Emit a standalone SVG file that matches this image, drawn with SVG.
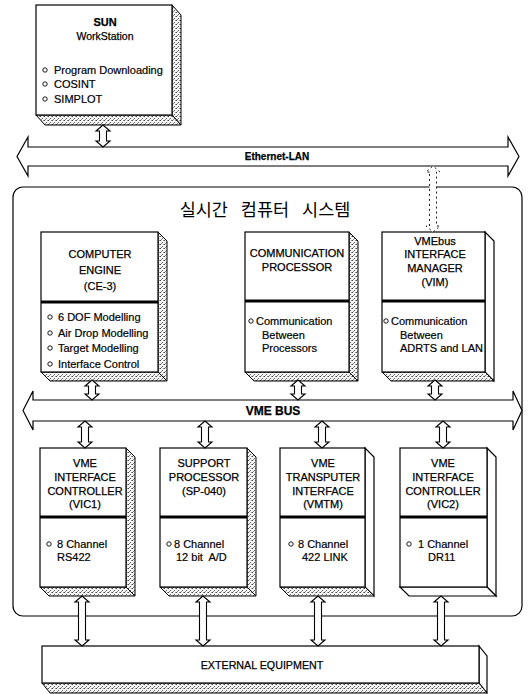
<svg xmlns="http://www.w3.org/2000/svg" width="530" height="694" viewBox="0 0 530 694">
<defs>
<pattern id="stip" width="4" height="4" patternUnits="userSpaceOnUse">
<rect width="4" height="4" fill="#f4f4f4"/>
<rect x="0" y="0" width="1" height="1" fill="#444"/>
<rect x="2" y="2" width="1" height="1" fill="#666"/>
<rect x="3" y="0" width="1" height="1" fill="#999"/>
<rect x="1" y="3" width="1" height="1" fill="#888"/>
</pattern>
<style>
.box{fill:#fff;stroke:#000;stroke-width:1.2}
.side{fill:url(#stip);stroke:#000;stroke-width:1}
.div{stroke:#000;stroke-width:3}
.bus{fill:#fff;stroke:#000;stroke-width:1.2}
.arr{fill:#fff;stroke:#000;stroke-width:1.1}
.dash{stroke-dasharray:2 3;stroke-width:0.9}
.cont{fill:none;stroke:#000;stroke-width:1.2}
.t{font-family:"Liberation Sans",Arial,sans-serif;font-size:11px;fill:#000;stroke:#000;stroke-width:0.25;text-anchor:middle}
.l{font-family:"Liberation Sans",Arial,sans-serif;font-size:11px;fill:#000;stroke:#000;stroke-width:0.2;text-anchor:start}
.bl{fill:#fff;stroke:#000;stroke-width:0.9}
.kr{font-family:"Noto Sans CJK KR","Noto Sans CJK SC",sans-serif;font-size:17.5px;fill:#000;text-anchor:middle;word-spacing:9px}
</style>
</defs>

<rect class="cont" x="13" y="187" width="509" height="429" rx="10"/>
<text class="kr" x="265" y="216">실시간 컴퓨터 시스템</text>

<g id="ethernet-lan">
<path class="bus" d="M28,147 L508,147 L508,137 L519,156.5 L508,176 L508,166 L28,166 L28,176 L17,156.5 L28,137 Z"/>
<text class="t" x="277" y="160" style="font-weight:bold;font-size:10px">Ethernet-LAN</text>
</g>

<g id="vme-bus">
<path class="bus" d="M33,400 L513,400 L513,391 L522,410.5 L513,430 L513,421 L33,421 L33,430 L23,410.5 L33,391 Z"/>
<text class="t" x="273" y="415" style="font-weight:bold;font-size:12px">VME BUS</text>
</g>

<g id="sun">
<path class="side" d="M172,5 L181,15 L181,125 L172,115 Z"/>
<path class="side" d="M36,115 L45,125 L181,125 L172,115 Z"/>
<rect class="box" x="36" y="5" width="136" height="110"/>
<text class="t" x="105" y="26" style="font-weight:bold">SUN</text>
<text class="t" x="105" y="40" style="font-size:10.5px">WorkStation</text>
<circle class="bl" cx="45" cy="70" r="2.2"/>
<text class="l" x="54" y="74">Program Downloading</text>
<circle class="bl" cx="45" cy="84" r="2.2"/>
<text class="l" x="54" y="88">COSINT</text>
<circle class="bl" cx="45" cy="99" r="2.2"/>
<text class="l" x="54" y="103">SIMPLOT</text>
</g>

<g id="computer-engine">
<path class="side" d="M158,232 L167,241 L167,381 L158,372 Z"/>
<path class="side" d="M41,372 L50,381 L167,381 L158,372 Z"/>
<rect class="box" x="41" y="232" width="117" height="140"/>
<line class="div" x1="41" y1="302" x2="158" y2="302"/>
<text class="t" x="100" y="258">COMPUTER</text>
<text class="t" x="100" y="274">ENGINE</text>
<text class="t" x="100" y="290">(CE-3)</text>
<circle class="bl" cx="50" cy="317" r="2.2"/>
<text class="l" x="58" y="321">6 DOF Modelling</text>
<circle class="bl" cx="50" cy="333" r="2.2"/>
<text class="l" x="58" y="337">Air Drop Modelling</text>
<circle class="bl" cx="50" cy="348" r="2.2"/>
<text class="l" x="58" y="352">Target Modelling</text>
<circle class="bl" cx="50" cy="364" r="2.2"/>
<text class="l" x="58" y="368">Interface Control</text>
</g>

<g id="communication-processor">
<path class="side" d="M349,232 L358,241 L358,381 L349,372 Z"/>
<path class="side" d="M245,372 L254,381 L358,381 L349,372 Z"/>
<rect class="box" x="245" y="232" width="104" height="140"/>
<line class="div" x1="245" y1="301" x2="349" y2="301"/>
<text class="t" x="297" y="257">COMMUNICATION</text>
<text class="t" x="297" y="271">PROCESSOR</text>
<circle class="bl" cx="251" cy="321" r="2.2"/>
<text class="l" x="256" y="325">Communication</text>
<text class="l" x="262" y="339">Between</text>
<text class="l" x="262" y="352">Processors</text>
</g>

<g id="vim">
<path class="box" d="M485,232 L494,241 L494,381 L485,372 Z"/>
<path class="side" d="M382,372 L391,381 L494,381 L485,372 Z"/>
<rect class="box" x="382" y="232" width="103" height="140"/>
<line class="div" x1="382" y1="301" x2="485" y2="301"/>
<text class="t" x="435" y="245">VMEbus</text>
<text class="t" x="435" y="258">INTERFACE</text>
<text class="t" x="435" y="272">MANAGER</text>
<text class="t" x="435" y="286">(VIM)</text>
<circle class="bl" cx="386" cy="321" r="2.2"/>
<text class="l" x="391" y="325">Communication</text>
<text class="l" x="400" y="339">Between</text>
<text class="l" x="400" y="352">ADRTS and LAN</text>
</g>

<g id="vic1">
<path class="side" d="M126,448 L135,457 L135,596 L126,587 Z"/>
<path class="side" d="M40,587 L49,596 L135,596 L126,587 Z"/>
<rect class="box" x="40" y="448" width="86" height="139"/>
<line class="div" x1="40" y1="517" x2="126" y2="517"/>
<text class="t" x="85" y="467">VME</text>
<text class="t" x="85" y="481">INTERFACE</text>
<text class="t" x="85" y="495">CONTROLLER</text>
<text class="t" x="85" y="508">(VIC1)</text>
<circle class="bl" cx="49" cy="544" r="2.2"/>
<text class="l" x="57" y="548">8 Channel</text>
<text class="l" x="57" y="561">RS422</text>
</g>

<g id="sp-040">
<path class="side" d="M247,448 L256,457 L256,596 L247,587 Z"/>
<path class="side" d="M160,587 L169,596 L256,596 L247,587 Z"/>
<rect class="box" x="160" y="448" width="87" height="139"/>
<line class="div" x1="160" y1="517" x2="247" y2="517"/>
<text class="t" x="204" y="467">SUPPORT</text>
<text class="t" x="204" y="481">PROCESSOR</text>
<text class="t" x="204" y="495">(SP-040)</text>
<circle class="bl" cx="169" cy="544" r="2.2"/>
<text class="l" x="174" y="548">8 Channel</text>
<text class="l" x="176" y="561" xml:space="preserve">12 bit  A/D</text>
</g>

<g id="vmtm">
<path class="box" d="M365,448 L374,457 L374,596 L365,587 Z"/>
<path class="side" d="M280,587 L289,596 L374,596 L365,587 Z"/>
<rect class="box" x="280" y="448" width="85" height="139"/>
<line class="div" x1="280" y1="517" x2="365" y2="517"/>
<text class="t" x="323" y="467">VME</text>
<text class="t" x="323" y="481">TRANSPUTER</text>
<text class="t" x="323" y="495">INTERFACE</text>
<text class="t" x="323" y="508">(VMTM)</text>
<circle class="bl" cx="291" cy="544" r="2.2"/>
<text class="l" x="298" y="548">8 Channel</text>
<text class="l" x="302" y="561">422 LINK</text>
</g>

<g id="vic2">
<path class="box" d="M487,448 L496,457 L496,596 L487,587 Z"/>
<path class="box" d="M400,587 L409,596 L496,596 L487,587 Z"/>
<rect class="box" x="400" y="448" width="87" height="139"/>
<line class="div" x1="400" y1="517" x2="487" y2="517"/>
<text class="t" x="443" y="467">VME</text>
<text class="t" x="443" y="481">INTERFACE</text>
<text class="t" x="443" y="495">CONTROLLER</text>
<text class="t" x="443" y="508">(VIC2)</text>
<circle class="bl" cx="409" cy="544" r="2.2"/>
<text class="l" x="418" y="548">1 Channel</text>
<text class="l" x="428" y="561">DR11</text>
</g>

<g id="external-equipment">
<path class="box" d="M479,646 L487,656 L487,693 L479,683 Z"/>
<path class="side" d="M42,683 L50,693 L487,693 L479,683 Z"/>
<rect class="box" x="42" y="646" width="437" height="37"/>
<text class="t" x="262" y="669" style="font-size:10.7px">EXTERNAL EQUIPMENT</text>
</g>

<g id="connectors">
<path class="arr" d="M99.5,131 L96,131 L103,125 L110,131 L106.5,131 L106.5,141 L110,141 L103,147 L96,141 L99.5,141 Z"/>
<path class="arr dash" d="M429.5,172 L426,172 L433,166 L440,172 L436.5,172 L436.5,226 L440,226 L433,232 L426,226 L429.5,226 Z"/>
<path class="arr" d="M88.5,386 L85,386 L92,380 L99,386 L95.5,386 L95.5,394 L99,394 L92,400 L85,394 L88.5,394 Z"/>
<path class="arr" d="M294.5,386 L291,386 L298,380 L305,386 L301.5,386 L301.5,394 L305,394 L298,400 L291,394 L294.5,394 Z"/>
<path class="arr" d="M431.5,386 L428,386 L435,380 L442,386 L438.5,386 L438.5,394 L442,394 L435,400 L428,394 L431.5,394 Z"/>
<path class="arr" d="M81.5,427 L78,427 L85,421 L92,427 L88.5,427 L88.5,442 L92,442 L85,448 L78,442 L81.5,442 Z"/>
<path class="arr" d="M201.5,427 L198,427 L205,421 L212,427 L208.5,427 L208.5,442 L212,442 L205,448 L198,442 L201.5,442 Z"/>
<path class="arr" d="M318.5,427 L315,427 L322,421 L329,427 L325.5,427 L325.5,442 L329,442 L322,448 L315,442 L318.5,442 Z"/>
<path class="arr" d="M439.5,427 L436,427 L443,421 L450,427 L446.5,427 L446.5,442 L450,442 L443,448 L436,442 L439.5,442 Z"/>
<path class="arr" d="M78.5,602 L75,602 L82,596 L89,602 L85.5,602 L85.5,640 L89,640 L82,646 L75,640 L78.5,640 Z"/>
<path class="arr" d="M199.5,602 L196,602 L203,596 L210,602 L206.5,602 L206.5,640 L210,640 L203,646 L196,640 L199.5,640 Z"/>
<path class="arr" d="M314.5,602 L311,602 L318,596 L325,602 L321.5,602 L321.5,640 L325,640 L318,646 L311,640 L314.5,640 Z"/>
<path class="arr" d="M437.5,602 L434,602 L441,596 L448,602 L444.5,602 L444.5,640 L448,640 L441,646 L434,640 L437.5,640 Z"/>
</g>
</svg>
